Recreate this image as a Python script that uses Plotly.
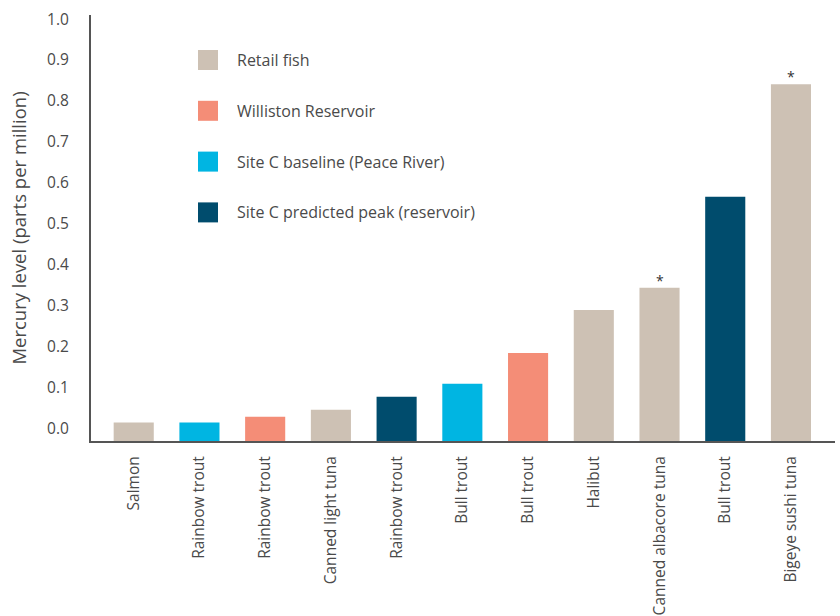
import plotly.graph_objects as go

# ---- data ----
labels = ["Salmon", "Rainbow trout", "Rainbow trout", "Canned light tuna", "Rainbow trout",
          "Bull trout", "Bull trout", "Halibut", "Canned albacore tuna", "Bull trout",
          "Bigeye sushi tuna"]
values = [0.015, 0.015, 0.029, 0.046, 0.078, 0.110, 0.185, 0.290, 0.344, 0.566, 0.841]
groups = ["Retail fish", "Site C baseline (Peace River)", "Williston Reservoir", "Retail fish",
          "Site C predicted peak (reservoir)", "Site C baseline (Peace River)",
          "Williston Reservoir", "Retail fish", "Retail fish",
          "Site C predicted peak (reservoir)", "Retail fish"]
flags = ["", "", "", "", "", "", "", "", "*", "", "*"]

legend_names = ["Retail fish", "Williston Reservoir", "Site C baseline (Peace River)",
                "Site C predicted peak (reservoir)"]
colors = {"Retail fish": "#CDC1B4", "Williston Reservoir": "#F48D77",
          "Site C baseline (Peace River)": "#00B5E2",
          "Site C predicted peak (reservoir)": "#004C6D"}

y_ticks = [round(i * 0.1, 1) for i in range(11)]

FONT = "Open Sans"
TXT = "#4a4a4a"
BASE = -0.03  # bars drawn slightly below zero as in the original

fig = go.Figure()
xs = list(range(len(labels)))
fig.add_trace(go.Bar(
    x=xs, y=[v - BASE for v in values], base=BASE,
    marker=dict(color=[colors[g] for g in groups], line=dict(width=0)),
    width=0.61, showlegend=False,
    customdata=values, hovertemplate="%{customdata}<extra></extra>",
))

annotations = []
for x, v, f in zip(xs, values, flags):
    if f:
        annotations.append(dict(x=x, y=v, xref="x", yref="y", text=f, showarrow=False,
                                yanchor="bottom", yshift=-4,
                                font=dict(family=FONT, size=14, color="#333")))

# manual legend
for i, name in enumerate(legend_names):
    yc = 60 + i * 50.8
    fig.add_shape(type="rect", xref="paper", yref="paper",
                  x0=(198 - 91) / 744, x1=(218 - 91) / 744,
                  y0=(441 - (yc + 10)) / 426, y1=(441 - (yc - 10)) / 426,
                  fillcolor=colors[name], line=dict(width=0))
    annotations.append(dict(x=(235 - 91) / 744, y=(441 - yc) / 426, xref="paper", yref="paper",
                            text=name, showarrow=False, xanchor="left", yanchor="middle",
                            font=dict(family=FONT, size=16, color=TXT)))

fig.update_layout(
    width=840, height=616,
    margin=dict(l=91, r=5, t=15, b=175),
    paper_bgcolor="white", plot_bgcolor="white",
    font=dict(family=FONT, color=TXT),
    annotations=annotations,
    xaxis=dict(range=[-0.65, 10.67], tickvals=xs, ticktext=labels, tickangle=-90,
               automargin=False, ticklabeloverflow="allow",
               showline=True, linecolor="#555", linewidth=2, showgrid=False, zeroline=False,
               ticks="", ticklabelstandoff=7, tickfont=dict(family=FONT, size=15.5, color=TXT)),
    yaxis=dict(range=[BASE, 1.01], tickvals=y_ticks, ticktext=[f"{t:.1f}" for t in y_ticks],
               automargin=False, ticklabeloverflow="allow",
               showline=True, linecolor="#555", linewidth=2, showgrid=False, zeroline=False,
               ticks="", ticklabelstandoff=17, tickfont=dict(family=FONT, size=15.5, color=TXT),
               title=dict(text="Mercury level (parts per million)", standoff=16,
                          font=dict(family=FONT, size=18.5, color=TXT))),
    bargap=0.39,
)

fig.write_html("out.html", config={"displayModeBar": False},
               post_script="document.body.style.margin='0';")
